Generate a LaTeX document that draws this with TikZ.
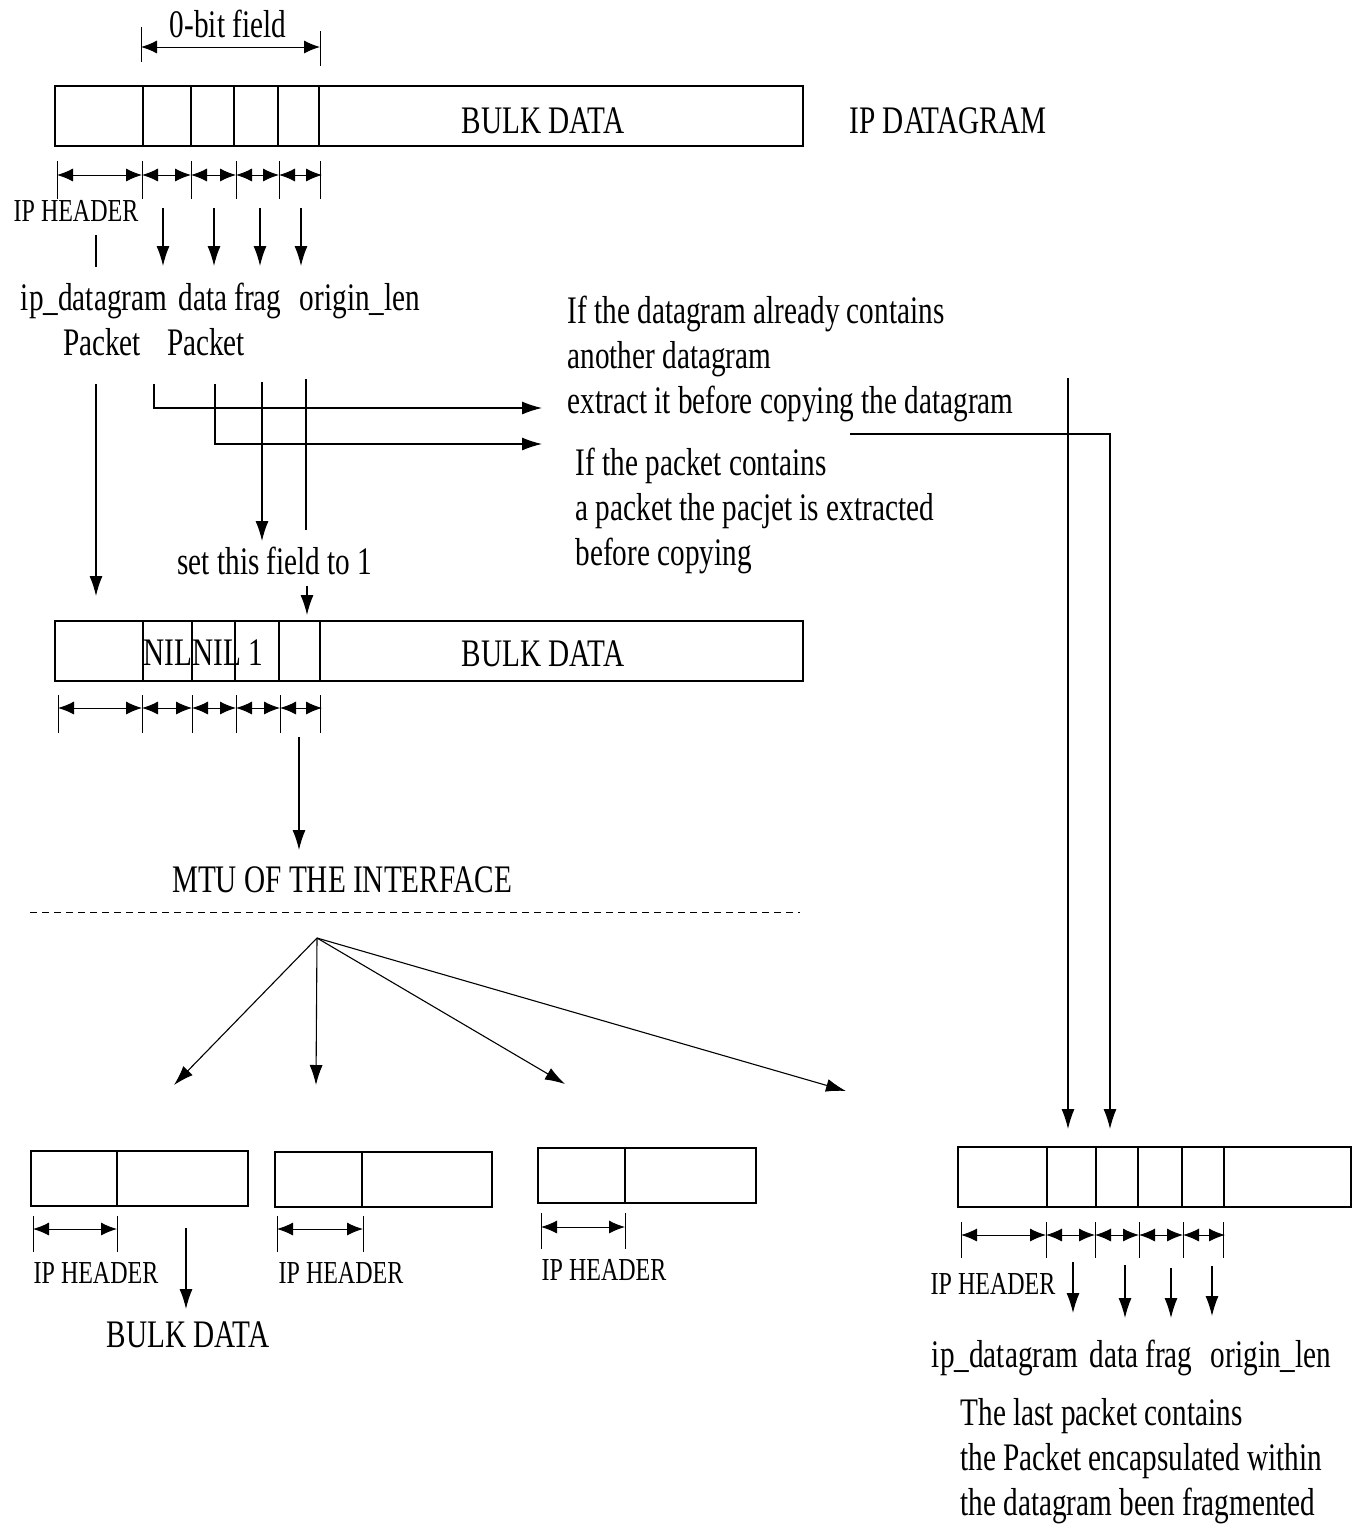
\documentclass[tikz,border=0pt]{standalone}
\usepackage{fontspec}
\setmainfont{Liberation Serif}[FakeStretch=0.75]
\usetikzlibrary{arrows.meta,positioning}

\newcommand{\mainsz}{\fontsize{39}{45}\selectfont}
\newcommand{\hdrsz}{\fontsize{32}{38}\selectfont}

\begin{document}
\begin{tikzpicture}[
    x=1pt, y=-1pt,
    line width=1.1pt,
    >={Latex[length=20pt,width=13pt]},
    txt/.style={inner sep=0pt, font=\mainsz},
    hdrtxt/.style={inner sep=0pt, font=\hdrsz},
    fieldbox/.style={draw, line width=1.3pt},
    tick/.style={line width=0.9pt},
    dim/.style={{Latex[length=16pt,width=13pt]}-{Latex[length=16pt,width=13pt]}, line width=1pt},
    flow/.style={->, line width=1.1pt},
    cut/.style={dash pattern=on 7pt off 5pt, line width=1pt}
]
\useasboundingbox (0,0) rectangle (1363,1534);

% Original datagram
\draw[fieldbox] (55,86) rectangle (803,146);
\foreach \x in {143,191,234,278,319} \draw (\x,86) -- (\x,146);
\node[txt, anchor=base] (bulkA) at (543,133) {BULK DATA};
\node[txt, anchor=base] (ipdg) at (948,133) {IP DATAGRAM};

% 0-bit field span
\draw[tick] (141,27) -- (141,62);
\draw[tick] (320,31) -- (320,66);
\draw[dim] (141,47) -- (320,47);
\node[txt, anchor=base] (zerobit) at (228,37) {0-bit field};

% Field widths
\foreach \x in {57,142,191,236,279,320} \draw[tick] (\x,161) -- (\x,199);
\foreach \a/\b in {57/142,142/191,191/236,236/279,279/322} \draw[dim] (\a,175) -- (\b,175);
\node[hdrtxt, anchor=base] (hdrA) at (76,221) {IP HEADER};
\draw (96,235) -- (96,267);
\foreach \x in {163,214,260,301} \draw[flow] (\x,208) -- (\x,266);

\node[txt, anchor=base] (ipdA) at (94,310) {ip\_datagram};
\node[txt, anchor=base] (fragA) at (230,310) {data frag};
\node[txt, anchor=base] (olenA) at (360,310) {origin\_len};
\node[txt, anchor=base] (pktA) at (102,355) {Packet};
\node[txt, anchor=base] (pktB) at (206,355) {Packet};

% Notes
\node[txt, anchor=north west, align=left] (noteDg) at (567,295)
    {If the datagram already contains\\another datagram\\extract it before copying the datagram};
\node[txt, anchor=north west, align=left] (notePk) at (575,447)
    {If the packet contains\\a packet the pacjet is extracted\\before copying};

% Copy paths
\coordinate (pA) at (96,384);
\coordinate (pB) at (154,384);
\coordinate (pC) at (215,384);
\coordinate (pD) at (262,382);
\coordinate (pE) at (306,379);
\coordinate (toDg) at (542,408);
\coordinate (toPk) at (542,444);
\draw[flow] (pA) -- (96,596);
\draw[flow] (pB) |- (toDg);
\draw[flow] (pC) |- (toPk);
\draw[flow] (pD) -- (262,541);
\draw (pE) -- (306,530);
\node[txt, anchor=base] (setone) at (275,574) {set this field to 1};
\draw[flow] (307,586) -- (307,615);

% Copied datagram
\draw[fieldbox] (55,621) rectangle (803,681);
\foreach \x in {143,192,235,279,320} \draw (\x,621) -- (\x,681);
\node[txt, anchor=base west] (nils) at (143,665) {NILNIL 1};
\node[txt, anchor=base] (bulkB) at (543,666) {BULK DATA};
\foreach \x in {58,142,192,236,280,320} \draw[tick] (\x,695) -- (\x,733);
\foreach \a/\b in {58/142,142/192,192/236,236/280,280/322} \draw[dim] (\a,708) -- (\b,708);
\draw[flow] (299,737) -- (299,850);
\node[txt, anchor=base] (mtu) at (342,892) {MTU OF THE INTERFACE};
\draw[cut] (30,912) -- (800,912);

% Fragmentation
\coordinate (split) at (317,938);
\coordinate (toF1) at (174,1085);
\coordinate (toF2) at (316,1085);
\coordinate (toF3) at (565,1084);
\coordinate (toF4) at (846,1091);
\foreach \t in {toF1,toF2,toF3,toF4} \draw[flow] (split) -- (\t);

% Fragments
\draw[fieldbox] (31,1151) rectangle (248,1206);
\draw (117,1151) -- (117,1206);
\draw[fieldbox] (275,1152) rectangle (492,1207);
\draw (362,1152) -- (362,1207);
\draw[fieldbox] (538,1148) rectangle (756,1203);
\draw (625,1148) -- (625,1203);
\foreach \x in {33,117,277,363} \draw[tick] (\x,1216) -- (\x,1252);
\foreach \x in {541,625} \draw[tick] (\x,1213) -- (\x,1249);
\draw[dim] (33,1229) -- (117,1229);
\draw[dim] (277,1229) -- (363,1229);
\draw[dim] (541,1227) -- (625,1227);
\node[hdrtxt, anchor=base] (hdrF1) at (96,1283) {IP HEADER};
\node[hdrtxt, anchor=base] (hdrF2) at (341,1283) {IP HEADER};
\node[hdrtxt, anchor=base] (hdrF3) at (604,1280) {IP HEADER};
\draw[flow] (186,1228) -- (186,1309);
\node[txt, anchor=base] (bulkF) at (188,1347) {BULK DATA};

% Last fragment
\coordinate (dgDown) at (1068,378);
\coordinate (inA) at (1068,1129);
\coordinate (pkTurn) at (850,434);
\coordinate (inB) at (1110,1129);
\draw[flow] (dgDown) -- (inA);
\draw[flow] (pkTurn) -| (inB);
\draw[fieldbox] (958,1147) rectangle (1351,1207);
\foreach \x in {1047,1096,1138,1182,1224} \draw (\x,1147) -- (\x,1207);
\foreach \x in {961,1046,1095,1139,1183,1223} \draw[tick] (\x,1222) -- (\x,1258);
\foreach \a/\b in {961/1046,1046/1095,1095/1139,1139/1183,1183/1225} \draw[dim] (\a,1235) -- (\b,1235);
\node[hdrtxt, anchor=base] (hdrL) at (993,1294) {IP HEADER};
\draw[flow] (1073,1262) -- (1073,1313);
\draw[flow] (1125,1265) -- (1125,1318);
\draw[flow] (1171,1268) -- (1171,1318);
\draw[flow] (1212,1266) -- (1212,1316);
\node[txt, anchor=base] (ipdL) at (1005,1367) {ip\_datagram};
\node[txt, anchor=base] (fragL) at (1141,1367) {data frag};
\node[txt, anchor=base] (olenL) at (1271,1367) {origin\_len};
\node[txt, anchor=north west, align=left] (noteLast) at (960,1398)
    {The last packet contains\\the Packet encapsulated within\\the datagram been fragmented};

\end{tikzpicture}
\end{document}
